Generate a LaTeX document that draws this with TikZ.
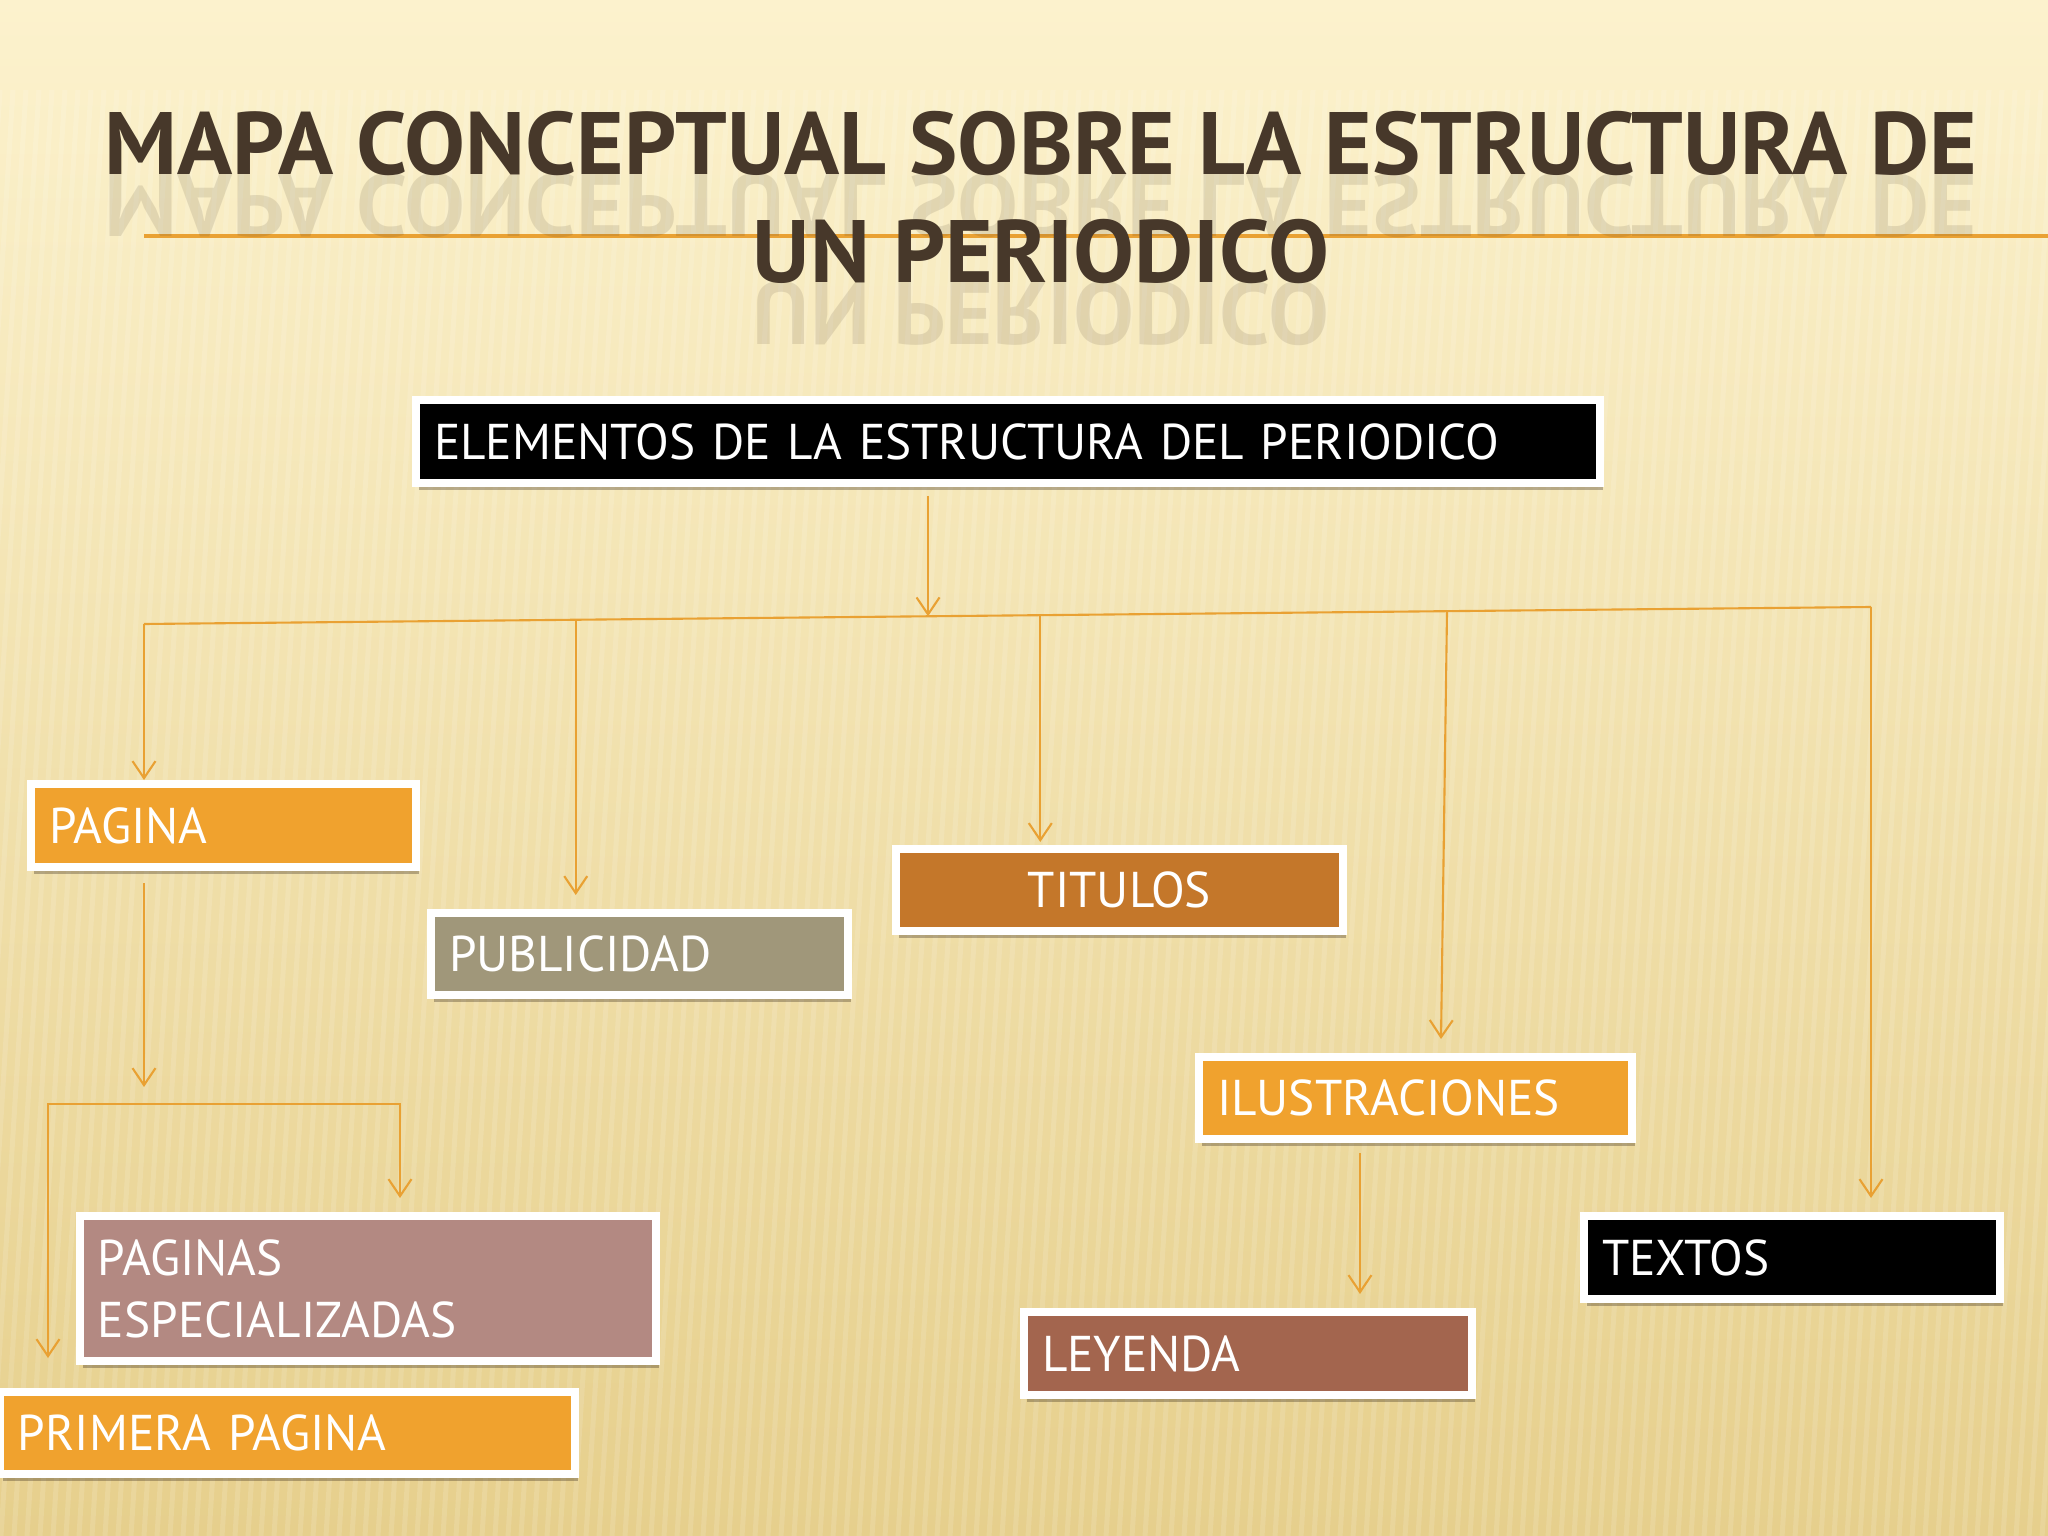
\documentclass[tikz,border=0pt]{standalone}
\usepackage{fontspec}
\setmainfont{PT Sans}[FakeStretch=0.98]
\newfontfamily\titlefont{PT Sans}[FakeStretch=1.03]
\usetikzlibrary{arrows.meta,calc,shadows}

\definecolor{fondoalto}{HTML}{FCF2CD}
\definecolor{fondomedio}{HTML}{F6E3A8}
\definecolor{fondobajo}{HTML}{E6CF8C}
\definecolor{naranja}{HTML}{F0A22E}
\definecolor{cobre}{HTML}{C4772A}
\definecolor{caqui}{HTML}{A0977A}
\definecolor{ladrillo}{HTML}{A3654E}
\definecolor{rosado}{HTML}{B38982}
\definecolor{linea}{HTML}{E9A133}
\definecolor{titulo}{HTML}{47382A}

\tikzset{
  caja/.style={draw=white, line width=0.08cm, anchor=north west, text=white,
    font=\fontsize{14.3}{17.6}\selectfont, inner xsep=0.18cm, align=left,
    drop shadow={shadow xshift=0.03cm, shadow yshift=-0.07cm, opacity=0.3, fill=black!80!brown}},
  flecha/.style={draw=linea, line width=0.6pt, -{Straight Barb[length=0.17cm,width=0.23cm]}},
  ambas/.style={draw=linea, line width=0.6pt, {Straight Barb[length=0.17cm,width=0.23cm]}-{Straight Barb[length=0.17cm,width=0.23cm]}},
  rotulo/.style={anchor=base, text=titulo, font=\titlefont\bfseries\fontsize{25.2}{30}\selectfont},
}

\begin{document}
\begin{tikzpicture}
    % Background of the slide
    \useasboundingbox (0,0) rectangle (20.48,-15.36);
    \shade[top color=fondoalto, middle color=fondomedio, bottom color=fondobajo] (0,0) rectangle (20.48,-15.36);
    \foreach \x in {0,0.13,...,21.5}
        \draw[white, opacity=0.13, line width=0.05cm] (\x,-0.9) -- (\x-0.9,-15.36);

    % Title with its rule
    \draw[linea, line width=0.04cm] (1.44,-2.36) -- (20.48,-2.36);
    \node[rotulo] (tit1) at (10.41,-1.75) {MAPA CONCEPTUAL SOBRE LA ESTRUCTURA DE};
    \node[rotulo] (tit2) at (10.41,-2.83) {UN PERIODICO};
    \begin{scope}[yscale=-1, transform shape, opacity=0.13]
        \node[rotulo] (ref1) at (10.41,1.75) {MAPA CONCEPTUAL SOBRE LA ESTRUCTURA DE};
        \node[rotulo] (ref2) at (10.41,2.83) {UN PERIODICO};
    \end{scope}

    % Boxes
    \node[caja, fill=black, text width=11.48cm, minimum height=0.83cm] (root) at (4.12,-3.96) {ELEMENTOS DE LA ESTRUCTURA DEL PERIODICO};
    \node[caja, fill=naranja, text width=3.49cm, minimum height=0.83cm] (pagina) at (0.27,-7.80) {PAGINA};
    \node[caja, fill=caqui, text width=3.81cm, minimum height=0.82cm] (publicidad) at (4.27,-9.09) {PUBLICIDAD};
    \node[caja, fill=cobre, text width=4.11cm, minimum height=0.82cm, align=center] (titulos) at (8.92,-8.45) {TITULOS};
    \node[caja, fill=naranja, text width=3.97cm, minimum height=0.82cm] (ilustraciones) at (11.95,-10.53) {ILUSTRACIONES};
    \node[caja, fill=black, text width=3.80cm, minimum height=0.83cm] (textos) at (15.80,-12.12) {TEXTOS};
    \node[caja, fill=ladrillo, text width=4.12cm, minimum height=0.83cm] (leyenda) at (10.20,-13.08) {LEYENDA};
    \node[caja, fill=rosado, text width=5.40cm, minimum height=1.45cm] (especial) at (0.76,-12.12) {PAGINAS\\ESPECIALIZADAS};
    \node[caja, fill=naranja, text width=5.39cm, minimum height=0.82cm] (primera) at (-0.04,-13.88) {PRIMERA PAGINA};

    % Bus under the root box
    \coordinate (busL) at (1.44,-6.24);
    \coordinate (busR) at (18.71,-6.07);
    \coordinate (bajada) at ($(busL)!0.454!(busR)$);
    \coordinate (ramaP) at ($(busL)!0.25!(busR)$);
    \coordinate (ramaT) at ($(busL)!0.519!(busR)$);
    \coordinate (ramaI) at ($(busL)!0.7545!(busR)$);
    \draw[linea, line width=0.6pt] (busL) -- (busR);
    \draw[flecha, shorten <=0.09cm] (root.south -| bajada) -- (bajada);

    % Branches
    \draw[flecha] (busL) -- (busL |- pagina.north);
    \draw[flecha, shorten >=0.14cm] (ramaP) -- (ramaP |- publicidad.north);
    \draw[flecha, shorten >=0.03cm] (ramaT) -- (ramaT |- titulos.north);
    \draw[flecha] (ramaI) -- ($(ramaI |- ilustraciones.north)+(-0.06,0.14)$);
    \draw[flecha, shorten >=0.14cm] (busR) -- (busR |- textos.north);
    \coordinate (ramaL) at ($(ilustraciones.south west)+(1.65,0)$);
    \draw[flecha, shorten <=0.10cm, shorten >=0.14cm] (ramaL) -- (ramaL |- leyenda.north);

    % Under PAGINA
    \coordinate (llave) at (1.44,-11.04);
    \coordinate (izq) at (0.48,-11.04);
    \coordinate (der) at (4.00,-11.04);
    \draw[flecha, shorten <=0.12cm, shorten >=0.17cm] (busL |- pagina.south) -- (llave);
    \draw[ambas, shorten <=0.30cm, shorten >=0.14cm] (izq |- primera.north) -- (izq) -- (der) -- (der |- especial.north);
\end{tikzpicture}
\end{document}
